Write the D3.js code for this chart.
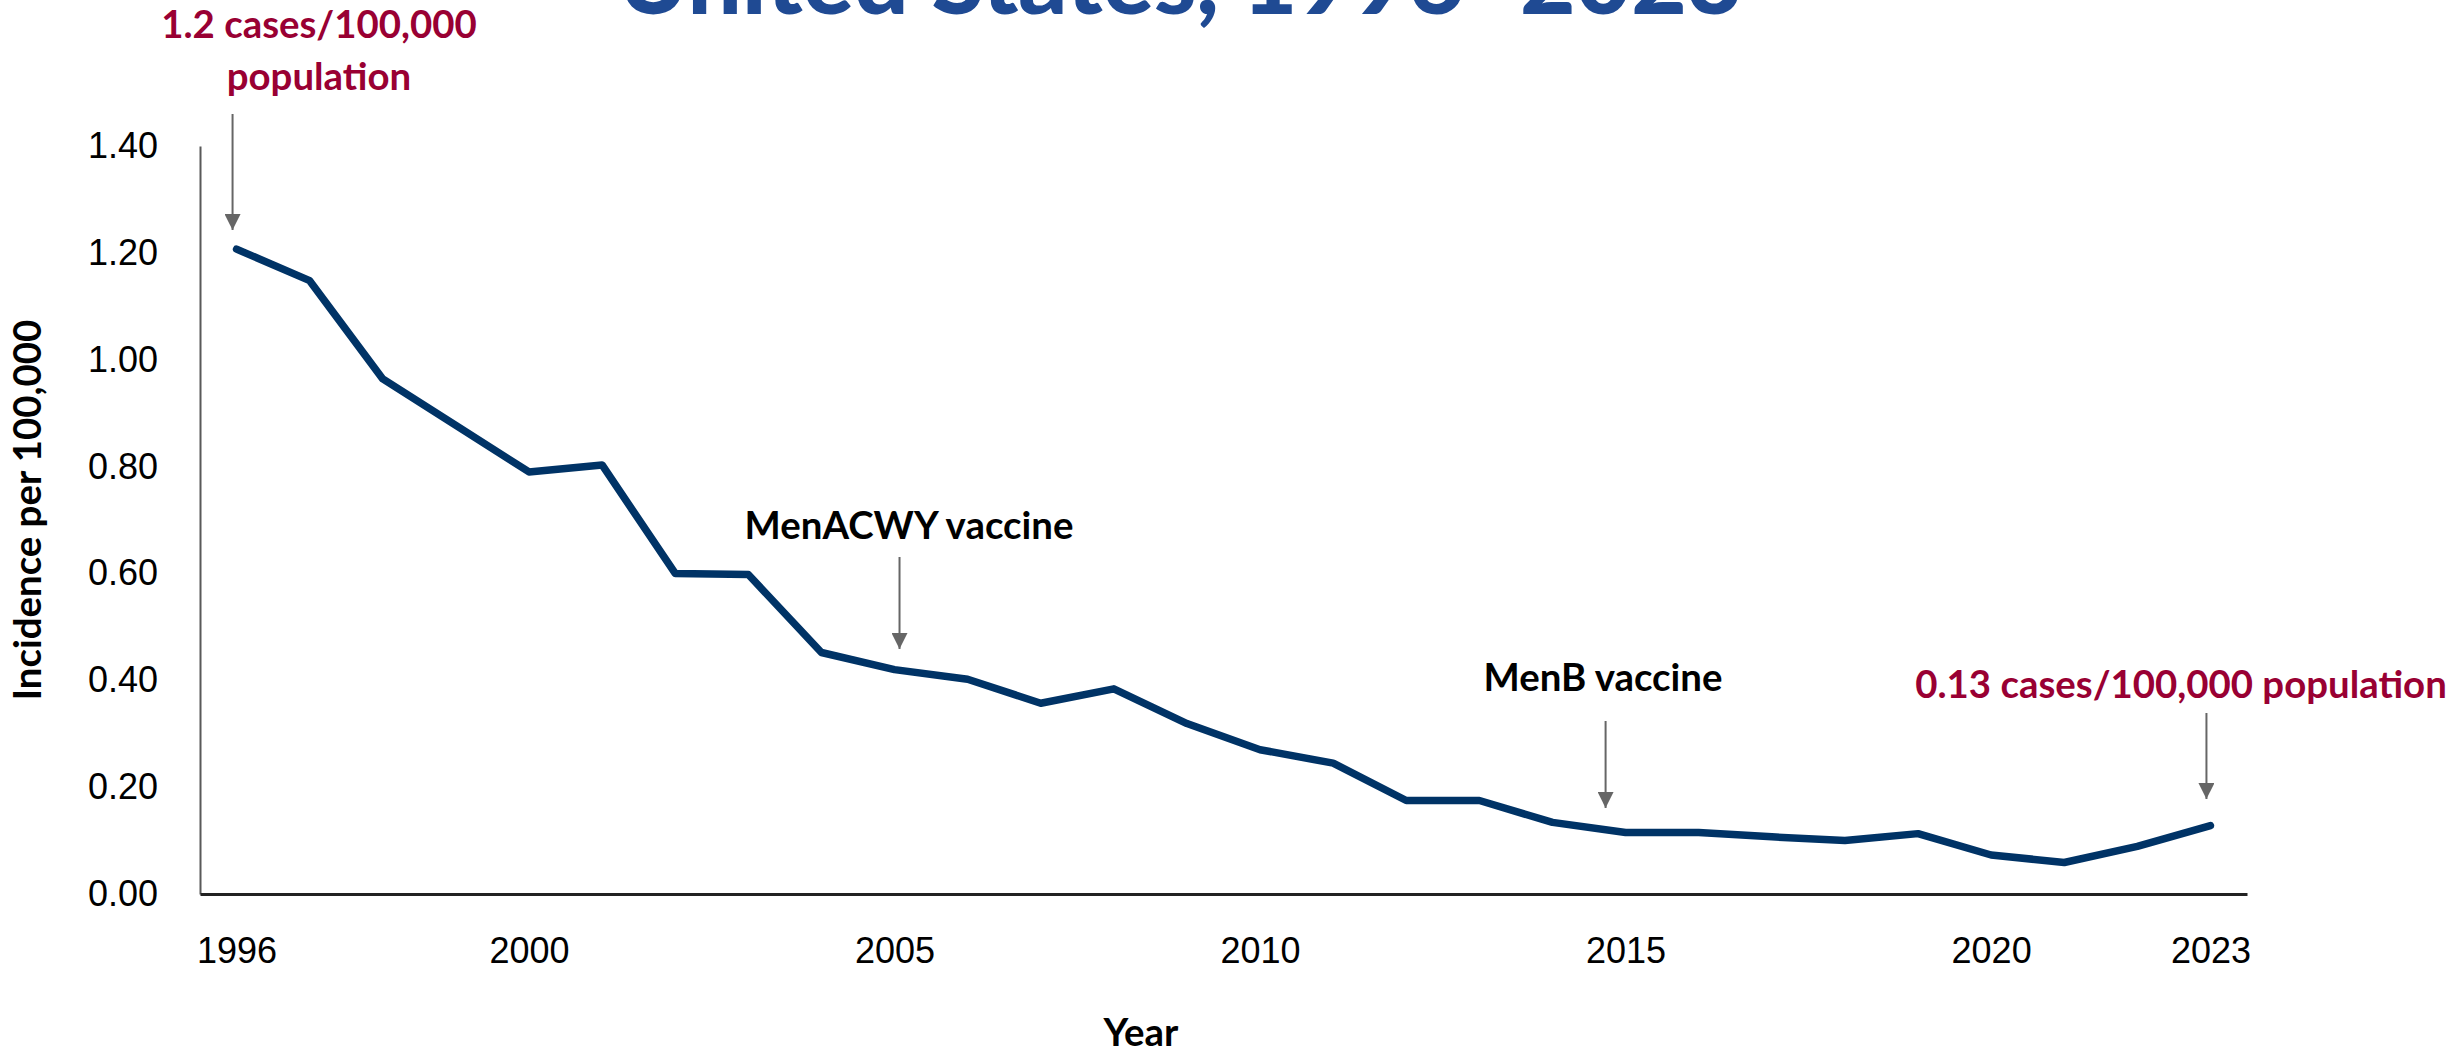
<!DOCTYPE html>
<html>
<head>
<meta charset="utf-8">
<script src="https://cdn.jsdelivr.net/npm/d3@7"></script>
<style>
    body { margin: 0; background: #fff; }
    svg { display: block; font-family: Lato, "Liberation Sans", sans-serif; }
</style>
</head>
<body>
<script>
// meningococcal disease incidence
const years = [1996, 1997, 1998, 1999, 2000, 2001, 2002, 2003, 2004, 2005,
    2006, 2007, 2008, 2009, 2010, 2011, 2012, 2013, 2014, 2015,
    2016, 2017, 2018, 2019, 2020, 2021, 2022, 2023];
const incidence = [1.207, 1.148, 0.964, 0.877, 0.790, 0.803, 0.600, 0.598, 0.452, 0.420,
    0.402, 0.357, 0.384, 0.319, 0.270, 0.245, 0.175, 0.175, 0.134, 0.115,
    0.115, 0.107, 0.100, 0.113, 0.073, 0.059, 0.089, 0.128];
const yTicks = [0, 0.2, 0.4, 0.6, 0.8, 1.0, 1.2, 1.4];
const xTickYears = [1996, 2000, 2005, 2010, 2015, 2020, 2023];

const titleText = "United States, 1996\u20132023";
const yLabel = "Incidence per 100,000";
const xLabel = "Year";
const noteLines = [
    ["1.2 cases/100,000", "population"],
    ["MenACWY vaccine"],
    ["MenB vaccine"],
    ["0.13 cases/100,000 population"],
];
const noteYears = [1996, 2005, 2015, 2023];

const width = 2460;
const height = 1051;
const lineColor = "#003366";
const red = "#990033";
const arrowColor = "#666666";

const svg = d3.select(document.body).append("svg")
    .attr("width", width)
    .attr("height", height);

const x = d3.scalePoint()
    .domain(years)
    .range([200, 2247])
    .padding(0.5);
const y = d3.scaleLinear()
    .domain([0, 1.4])
    .range([894, 146]);

// scale a text's font so it spans the given width
const fitText = function(node, w) {
    const fs = parseFloat(getComputedStyle(node).fontSize);
    return fs * w / node.getComputedTextLength();
};

// title (mostly off the top of the picture)
const title = svg.append("text")
    .text(titleText)
    .attr("x", 1180)
    .attr("y", 14)
    .attr("text-anchor", "middle")
    .attr("fill", "#1f4a93")
    .style("font-weight", 900)
    .style("font-size", "80px");
title.style("font-size", fitText(title.node(), 1125) + "px");

// y axis
const yAxis = svg.append("g")
    .attr("transform", "translate(200,0)")
    .call(d3.axisLeft(y).tickValues(yTicks).tickSize(0).tickSizeOuter(0)
        .tickPadding(42).tickFormat(d3.format(".2f")));
yAxis.select(".domain").attr("stroke", "#595959").attr("stroke-width", 2);
yAxis.selectAll("text").style("font-size", "36px").attr("fill", "#000");

// x axis
const xAxis = svg.append("g")
    .attr("transform", "translate(0,894)")
    .call(d3.axisBottom(x).tickValues(xTickYears).tickSize(0).tickSizeOuter(0)
        .tickPadding(43));
xAxis.select(".domain").attr("stroke", "#222").attr("stroke-width", 3);
xAxis.selectAll("text").style("font-size", "36px").attr("fill", "#000");

// bold size from the MenACWY label width
const probe = svg.append("text").text(noteLines[1][0])
    .style("font-weight", 700).style("font-size", "40px");
const boldSize = fitText(probe.node(), 329);
probe.remove();

svg.append("text")
    .text(yLabel)
    .attr("transform", "translate(41,510) rotate(-90)")
    .attr("text-anchor", "middle")
    .style("font-weight", 700)
    .style("font-size", boldSize + "px");

svg.append("text")
    .text(xLabel)
    .attr("x", 1141)
    .attr("y", 1046)
    .attr("text-anchor", "middle")
    .style("font-weight", 700)
    .style("font-size", boldSize + "px");

// line
svg.append("path")
    .datum(years.map((yr, i) => [yr, incidence[i]]))
    .attr("fill", "none")
    .attr("stroke", lineColor)
    .attr("stroke-width", 7.5)
    .attr("stroke-linejoin", "round")
    .attr("stroke-linecap", "round")
    .attr("d", d3.line().x(d => x(d[0])).y(d => y(d[1])));

// annotations
svg.append("defs").append("marker")
    .attr("id", "head")
    .attr("viewBox", "0 0 16 16")
    .attr("refX", 16)
    .attr("refY", 8)
    .attr("markerWidth", 16)
    .attr("markerHeight", 16)
    .attr("markerUnits", "userSpaceOnUse")
    .attr("orient", "auto")
    .append("path")
    .attr("d", "M0,0L16,8L0,16Z")
    .attr("fill", arrowColor);

const noteLayout = [
    {cx: 319, base: 38, color: red, dx: -4, top: 114, tip: 230},
    {cx: 909, base: 539, color: "#000", dx: 5, top: 557, tip: 649},
    {cx: 1603, base: 691, color: "#000", dx: -20, top: 721, tip: 808},
    {cx: 2181, base: 698, color: red, dx: -4, top: 713, tip: 799},
];

noteLines.forEach((lines, i) => {
    const l = noteLayout[i];
    const t = svg.append("text")
        .attr("text-anchor", "middle")
        .attr("fill", l.color)
        .style("font-weight", 700)
        .style("font-size", boldSize + "px");
    lines.forEach((s, j) => {
        t.append("tspan")
            .text(s)
            .attr("x", l.cx)
            .attr("y", l.base + j * 52);
    });
    const ax = x(noteYears[i]) + l.dx;
    svg.append("line")
        .attr("x1", ax).attr("x2", ax)
        .attr("y1", l.top).attr("y2", l.tip)
        .attr("stroke", arrowColor)
        .attr("stroke-width", 2)
        .attr("marker-end", "url(#head)");
});
</script>
</body>
</html>
